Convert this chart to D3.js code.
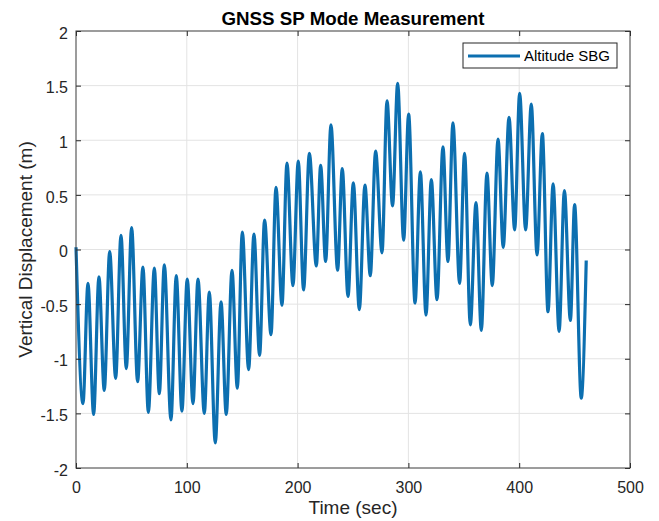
<!DOCTYPE html>
<html>
<head>
<meta charset="utf-8">
<script src="https://cdn.jsdelivr.net/npm/d3@7"></script>
<style>
  body { margin: 0; background: #fff; }
  svg { display: block; font-family: "Liberation Sans", Arial, sans-serif; }
</style>
</head>
<body>
<svg id="chart"></svg>
<script>
// peaks and troughs, in seconds / metres
const timeSec = [
  0, 6.3, 10.8, 15.9, 20.7, 25.5, 30.4, 35.8, 40.6, 45.4, 50.2, 55.6, 60.4, 65.3, 70.7, 75.2,
  79.7, 85.7, 90.5, 95.6, 100.4, 105.6, 110.1, 115.8, 120.3, 125.7, 130.9, 135.6, 140.8, 145.6,
  150.1, 155.8, 160.6, 165.7, 170.2, 176, 180.5, 185.9, 190.4, 195.8, 200.6, 205.4, 210.6, 216.9,
  220.8, 225.3, 230.1, 236.1, 240.3, 245.5, 250.3, 255.7, 260.8, 265.6, 270.4, 276.2, 280.7,
  285.7, 290.3, 295.7, 300.2, 306, 310.8, 315.9, 320.7, 325.8, 331.2, 335.7, 340.2, 346.2,
  350.7, 355.9, 361, 365.8, 370.9, 375.7, 380.9, 385.6, 390.8, 395.9, 400.4, 405.8, 410.9,
  416.1, 420.9, 426, 430.6, 436, 440.8, 446.2, 450, 456, 460.5
];
const altitudeSBG = [
  0.02, -1.41, -0.31, -1.51, -0.25, -1.29, -0.02, -1.18, 0.13, -1.09, 0.20, -1.21, -0.16, -1.49, -0.17, -1.32,
  -0.14, -1.56, -0.24, -1.48, -0.27, -1.41, -0.27, -1.50, -0.39, -1.77, -0.48, -1.51, -0.19, -1.27,
  0.16, -1.10, 0.14, -0.97, 0.27, -0.78, 0.57, -0.51, 0.79, -0.33, 0.81, -0.37, 0.88, -0.15,
  0.77, -0.11, 1.14, -0.19, 0.74, -0.43, 0.61, -0.55, 0.59, -0.24, 0.90, -0.03, 1.36,
  0.40, 1.52, 0.085, 1.24, -0.49, 0.71, -0.60, 0.64, -0.46, 0.94, -0.11, 1.16, -0.31,
  0.88, -0.69, 0.43, -0.74, 0.70, -0.33, 1.01, 0.02, 1.21, 0.18, 1.43, 0.18, 1.33,
  -0.05, 1.06, -0.57, 0.60, -0.75, 0.54, -0.65, 0.41, -1.36, -0.10
];
const xTicks = [0, 100, 200, 300, 400, 500];
const yTicks = [-2, -1.5, -1, -0.5, 0, 0.5, 1, 1.5, 2];

const width = 659, height = 521;
const margin = { top: 31, right: 29, bottom: 53, left: 76 };
const innerW = width - margin.left - margin.right;
const innerH = height - margin.top - margin.bottom;

const svg = d3.select('#chart').attr('width', width).attr('height', height);
const g = svg.append('g').attr('transform', 'translate(' + margin.left + ',' + margin.top + ')');

const x = d3.scaleLinear().domain([0, 500]).range([0, innerW]);
const y = d3.scaleLinear().domain([-2, 2]).range([innerH, 0]);

// grid
g.append('g').selectAll('line').data(xTicks.slice(1, -1)).enter().append('line')
  .attr('x1', d => x(d)).attr('x2', d => x(d)).attr('y1', 0).attr('y2', innerH)
  .attr('stroke', '#e3e3e3').attr('stroke-width', 1);
g.append('g').selectAll('line').data(yTicks.slice(1, -1)).enter().append('line')
  .attr('y1', d => y(d)).attr('y2', d => y(d)).attr('x1', 0).attr('x2', innerW)
  .attr('stroke', '#e3e3e3').attr('stroke-width', 1);

// series
const pts = timeSec.map((t, i) => [t, altitudeSBG[i]]);
g.append('path')
  .datum(pts)
  .attr('fill', 'none')
  .attr('stroke', '#0c6fb0')
  .attr('stroke-width', 3.2)
  .attr('stroke-linejoin', 'round')
  .attr('d', d3.line().x(d => x(d[0])).y(d => y(d[1])).curve(d3.curveMonotoneX));

// axes, MATLAB style: ticks inside, box on
const tickLen = 5;
const fmt = d => String(d);
const axStyle = sel => {
  sel.select('.domain').remove();
  sel.selectAll('.tick line').attr('stroke', '#262626');
  sel.selectAll('.tick text').attr('fill', '#262626').style('font-size', '16px');
};

g.append('g').attr('transform', 'translate(0,' + innerH + ')')
  .call(d3.axisBottom(x).tickValues(xTicks).tickFormat(fmt).tickSizeInner(-tickLen).tickSizeOuter(0).tickPadding(14))
  .call(axStyle);
g.append('g')
  .call(d3.axisTop(x).tickValues(xTicks).tickFormat('').tickSizeInner(-tickLen).tickSizeOuter(0))
  .call(axStyle);
g.append('g')
  .call(d3.axisLeft(y).tickValues(yTicks).tickFormat(fmt).tickSizeInner(-tickLen).tickSizeOuter(0).tickPadding(8))
  .call(axStyle)
  .selectAll('.tick text').attr('dy', '0.45em');
g.append('g').attr('transform', 'translate(' + innerW + ',0)')
  .call(d3.axisRight(y).tickValues(yTicks).tickFormat('').tickSizeInner(-tickLen).tickSizeOuter(0))
  .call(axStyle);

g.append('rect')
  .attr('x', 0).attr('y', 0).attr('width', innerW).attr('height', innerH)
  .attr('fill', 'none').attr('stroke', '#3a3a3a').attr('stroke-width', 1);

// labels
svg.append('text')
  .attr('x', margin.left + innerW / 2).attr('y', 25)
  .attr('text-anchor', 'middle').attr('font-weight', 'bold').style('font-size', '19px')
  .attr('textLength', 263).attr('lengthAdjust', 'spacingAndGlyphs')
  .attr('fill', '#000').text('GNSS SP Mode Measurement');

svg.append('text')
  .attr('x', margin.left + innerW / 2).attr('y', 514)
  .attr('text-anchor', 'middle').style('font-size', '19px')
  .attr('fill', '#262626').text('Time (sec)');

svg.append('text')
  .attr('transform', 'translate(32,' + (margin.top + innerH / 2) + ') rotate(-90)')
  .attr('text-anchor', 'middle').style('font-size', '19px')
  .attr('fill', '#262626').text('Vertical Displacement (m)');

// legend
const lg = svg.append('g').attr('transform', 'translate(463,43)');
lg.append('rect').attr('width', 154).attr('height', 25)
  .attr('fill', '#fff').attr('stroke', '#262626').attr('stroke-width', 1);
lg.append('line').attr('x1', 5).attr('x2', 57).attr('y1', 13).attr('y2', 13)
  .attr('stroke', '#0c6fb0').attr('stroke-width', 3.2);
lg.append('text').attr('x', 61).attr('y', 18).style('font-size', '15px')
  .attr('fill', '#000').text('Altitude SBG');
</script>
</body>
</html>
